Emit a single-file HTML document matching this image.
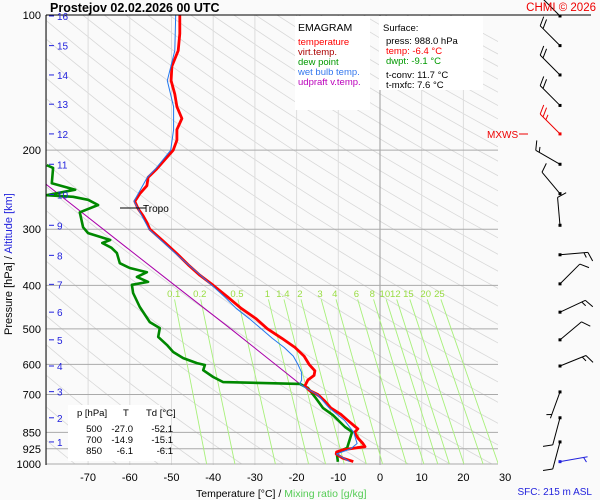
<!DOCTYPE html>
<html><head><meta charset="utf-8"><style>
html,body{margin:0;padding:0;background:#fafafa;}
svg{display:block;font-family:"Liberation Sans",sans-serif;}
</style></head><body>
<svg id="chart" width="600" height="500" viewBox="0 0 600 500">
<defs><clipPath id="plotclip"><rect x="46" y="15" width="452" height="450"/></clipPath></defs>
<g id="grid" clip-path="url(#plotclip)"></g>
<g id="series" clip-path="url(#plotclip)"></g>
<g id="axes"></g>
<g id="winds"></g>
<text x="50" y="12" font-size="12.5" font-weight="bold">Prostejov    02.02.2026 00 UTC</text>
<text x="596" y="11" font-size="11.5" fill="#e00" text-anchor="end">CHMI © 2026</text>
<g>
<rect x="295" y="16" width="75" height="94" fill="#fff"/>
<text x="298" y="31" font-size="10.5">EMAGRAM</text>
<text x="298" y="45" font-size="9.5" fill="#f00">temperature</text>
<text x="298" y="55" font-size="9.5" fill="#a00">virt.temp.</text>
<text x="298" y="65" font-size="9.5" fill="#090">dew point</text>
<text x="298" y="75" font-size="9.5" fill="#37e">wet bulb temp.</text>
<text x="298" y="85" font-size="9.5" fill="#b0b">udpraft v.temp.</text>
</g>
<g>
<rect x="379" y="16" width="104" height="74" fill="#fff"/>
<text x="383" y="31" font-size="9.5">Surface:</text>
<text x="386" y="44" font-size="9.5">press: 988.0 hPa</text>
<text x="386" y="54" font-size="9.5" fill="#f00">temp: -6.4 °C</text>
<text x="386" y="64" font-size="9.5" fill="#090">dwpt: -9.1 °C</text>
<text x="386" y="78" font-size="9.5">t-conv: 11.7 °C</text>
<text x="386" y="88" font-size="9.5">t-mxfc: 7.6 °C</text>
</g>
<g font-size="9.5">
<rect x="68" y="405" width="92" height="56" fill="#fff"/>
<text x="77" y="416">p [hPa]</text><text x="123" y="416">T</text><text x="146" y="416">Td [°C]</text>
<text x="102" y="432" text-anchor="end">500</text><text x="133" y="432" text-anchor="end">-27.0</text><text x="173" y="432" text-anchor="end">-52.1</text>
<text x="102" y="443" text-anchor="end">700</text><text x="133" y="443" text-anchor="end">-14.9</text><text x="173" y="443" text-anchor="end">-15.1</text>
<text x="102" y="454" text-anchor="end">850</text><text x="133" y="454" text-anchor="end">-6.1</text><text x="173" y="454" text-anchor="end">-6.1</text>
</g>
<text x="196" y="497" font-size="10.5">Temperature [°C]  /  <tspan fill="#5c5">Mixing ratio [g/kg]</tspan></text>
<text x="592" y="495" font-size="10" fill="#22d" text-anchor="end">SFC: 215 m ASL</text>
<text transform="translate(12,335) rotate(-90)" font-size="11">Pressure [hPa]  /  <tspan fill="#22d">Altitude [km]</tspan></text>
<text x="487" y="138" font-size="10" fill="#e00">MXWS</text>
<line x1="519" y1="134" x2="528" y2="134" stroke="#e00"/>
</svg>
<script>
const pTicks=[100,200,300,400,500,600,700,850,925,1000];
const tTicks=[-70,-60,-50,-40,-30,-20,-10,0,10,20,30];
const mixRatios=[0.1,0.2,0.5,1,1.4,2,3,4,6,8,10,12,15,20,25];
const kmTicks=[1,2,3,4,5,6,7,8,9,10,11,12,13,14,15,16];
const kmPress=[893,789,690,605,529,459,398,343,294,251,215,184,158,136,117,100.5];
const tempP=[100,110,120,130,140,150,160,170,180,190,200,210,220,230,240,250,260,270,280,290,300,320,340,360,380,400,425,450,475,500,525,550,575,600,620,635,650,670,685,700,725,750,775,800,825,835,850,875,900,915,920,930,940,950,970,988];
const tempT=[-48,-48,-48.4,-49.9,-50.1,-49.2,-48.7,-47.5,-48.7,-48.7,-49.6,-51.6,-53.5,-55.6,-55.9,-57.6,-58.8,-58,-56.8,-55.9,-55.2,-51.8,-48.7,-46,-43.2,-40,-36.5,-33.3,-29.7,-27,-23.5,-20.4,-18.2,-17,-15.6,-15.8,-17.3,-18,-17,-14.9,-13.2,-11.8,-9.4,-7.7,-6,-5.3,-6.1,-5.3,-4.1,-3.6,-5.5,-9,-10.4,-10.5,-9,-6.4];
const dewP=[216,219,237,245,252,254,258,265,275,297,306,317,322,330,339,357,366,374,383,393,399,416,447,483,498,521,543,563,581,596,602,618,640,657,663,677,709,750,778,827,848,921,940,955,989];
const dewT=[-79.9,-78.4,-78.7,-73.1,-79.9,-73.6,-70,-67.6,-72,-71.2,-70,-64.7,-66.6,-64.4,-63.1,-62.4,-60,-55.9,-58.3,-55.6,-59.5,-59.2,-57.6,-55.2,-52.8,-53.2,-51.1,-49.6,-47.2,-43.9,-42,-42.4,-40,-37.6,-19.2,-17.3,-15.6,-13.7,-11.3,-8.4,-6.7,-7.9,-10.1,-10.3,-10.1];
const wbP=[100,120,140,160,180,200,220,230,260,300,340,400,425,450,475,500,525,550,575,600,625,650,663,677,700,750,800,850,900,925,950,988];
const wbT=[-49,-49.2,-51,-49.5,-49.5,-50.2,-53.8,-55.8,-59,-55.4,-49,-40.3,-37.2,-34.5,-31.3,-28.5,-25.8,-23,-20.8,-19.7,-18.8,-18.8,-19.2,-17.8,-15,-12.2,-8.5,-6.3,-5.5,-7,-10.4,-7.3];
const parcelP=[720,700,663,500,400,330,239,200];
const parcelT=[-13.7,-15.5,-19.2,-35.8,-49.2,-60.7,-79.9,-88];
const windP=[100.5,117,136,159,184,215,250,294,342,397,459,529,605,691,789,893,988];
const windDir=[315,315,315,315,315,300,320,355,85,45,65,50,68,200,195,195,80];
const windSpd=[20,20,20,20,25,15,10,10,15,10,15,10,15,5,10,10,5];

const NS='http://www.w3.org/2000/svg';
const X=t=>380+4.17*t;
const Y=p=>15+195*Math.log(p/100);
function mk(tag,attrs,parent){const e=document.createElementNS(NS,tag);for(const k in attrs)e.setAttribute(k,attrs[k]);parent.appendChild(e);return e;}
const grid=document.getElementById('grid'),series=document.getElementById('series'),axes=document.getElementById('axes'),winds=document.getElementById('winds');

for(let th=180;th<=560;th+=10){let pts=[];for(let p=100;p<=1000;p+=20){pts.push(X(th*Math.pow(p/1000,0.286)-273.15).toFixed(1)+','+Y(p).toFixed(1));}
const l=mk('polyline',{points:pts.join(' '),fill:'none',stroke:'#d8d8d8','stroke-width':0.8},grid);

}
for(let t=-80;t<=30;t+=10){const l=mk('line',{x1:X(t),x2:X(t),y1:15,y2:465,stroke:t===0?'#999':'#ddd','stroke-width':1},grid);

}
pTicks.forEach(p=>{const l=mk('line',{x1:46,x2:498,y1:Y(p),y2:Y(p),stroke:'#aaa','stroke-width':1},grid);

});
function tdw(w,p){const e=w*p/(622+w);const a=Math.log(e/6.112);return 243.5*a/(17.67-a);}
mixRatios.forEach(w=>{const l=mk('line',{x1:X(tdw(w,430)),y1:Y(430),x2:X(tdw(w,1000)),y2:Y(1000),stroke:'#a8f07a','stroke-width':0.9},grid);


const t=mk('text',{x:X(tdw(w,420)),y:Y(420)+2,'font-size':9.5,fill:'#9d4','text-anchor':'middle'},grid);t.textContent=String(w);

});
function line(P,T,color,w,name){const pts=P.map((p,i)=>X(T[i]).toFixed(1)+','+Y(p).toFixed(1)).join(' ');
const l=mk('polyline',{points:pts,fill:'none',stroke:color,'stroke-width':w,'stroke-linejoin':'round'},series);

}
line(parcelP,parcelT,'#a0a','1','parcel-line');
line(dewP,dewT,'#080','2.6','dewpoint-line');
line(tempP,tempT,'#f00','2.8','temperature-line');
line(wbP,wbT,'#27e','1','wet-bulb-line');
const tr=mk('line',{x1:120,x2:146,y1:208,y2:208,stroke:'#000'},series);


const tt=mk('text',{x:143,y:212,'font-size':10},series);tt.textContent='Tropo';


mk('line',{x1:46,x2:46,y1:15,y2:465,stroke:'#000'},axes);
mk('line',{x1:46,x2:591,y1:15,y2:15,stroke:'#000'},axes);
pTicks.forEach(p=>{const t=mk('text',{x:41,y:Y(p)+4,'font-size':11,'text-anchor':'end'},axes);t.textContent=p;

});
tTicks.forEach(v=>{const t=mk('text',{x:X(v),y:481,'font-size':11,'text-anchor':'middle'},axes);t.textContent=v;

});
kmTicks.forEach((k,i)=>{const y=Y(kmPress[i]);mk('line',{x1:49,x2:54,y1:y,y2:y,stroke:'#22d'},axes);
const t=mk('text',{x:57,y:y+4,'font-size':10,fill:'#22d'},axes);t.textContent=k;

});
windP.forEach((p,i)=>{const y=Y(p),x=560,d=windDir[i]*Math.PI/180;const dx=Math.sin(d),dy=-Math.cos(d);const L=28;
const ex=x+dx*L,ey=y+dy*L;const col=i===4?'#e00':(i===windP.length-1?'#22d':'#000');
const g=mk('g',{},winds);


mk('line',{x1:x,y1:y,x2:ex,y2:ey,stroke:col},g);
mk('rect',{x:x-1.5,y:y-1.5,width:3,height:3,fill:col},g);
let s=windSpd[i],pos=0;const px=-dy,py=dx;
while(s>=10){const bx=ex-dx*pos,by=ey-dy*pos;mk('line',{x1:bx,y1:by,x2:bx+px*9+dx*4,y2:by+py*9+dy*4,stroke:col},g);s-=10;pos+=4;}
if(s>=5){const bx=ex-dx*(pos||4),by=ey-dy*(pos||4);mk('line',{x1:bx,y1:by,x2:bx+px*5+dx*2,y2:by+py*5+dy*2,stroke:col},g);}
});
</script>
</body></html>
